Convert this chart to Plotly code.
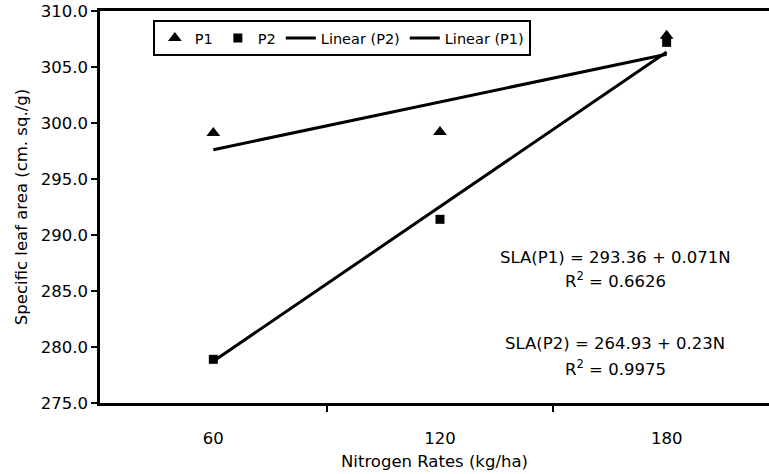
import plotly.graph_objects as go

# Data
n_rates = [60, 120, 180]
sla_p1 = [299.1, 299.2, 307.8]
sla_p2 = [278.9, 291.4, 307.2]
# Linear trend coefficients (as printed on the chart)
p1_intercept, p1_slope = 293.36, 0.071
p2_intercept, p2_slope = 264.93, 0.23
eq_p1 = "SLA(P1) = 293.36 + 0.071N"
r2_p1 = "R<sup>2</sup> = 0.6626"
eq_p2 = "SLA(P2) = 264.93 + 0.23N"
r2_p2 = "R<sup>2</sup> = 0.9975"
x_tick_labels = ["60", "120", "180"]

FONT = "DejaVu Sans"

trend_x = [n_rates[0], n_rates[-1]]
trend_p1 = [p1_intercept + p1_slope * x for x in trend_x]
trend_p2 = [p2_intercept + p2_slope * x for x in trend_x]

fig = go.Figure()
fig.add_trace(go.Scatter(x=n_rates, y=sla_p1, mode="markers", name="P1",
                         marker=dict(symbol="triangle-up", size=12, color="black")))
fig.add_trace(go.Scatter(x=n_rates, y=sla_p2, mode="markers", name="P2",
                         marker=dict(symbol="square", size=9, color="black")))
fig.add_trace(go.Scatter(x=trend_x, y=trend_p2, mode="lines", name="Linear (P2)",
                         line=dict(color="black", width=3)))
fig.add_trace(go.Scatter(x=trend_x, y=trend_p1, mode="lines", name="Linear (P1)",
                         line=dict(color="black", width=3)))

ann_font = dict(family=FONT, size=16.5, color="black")
for txt, yp in [(eq_p1, 0.372), (r2_p1, 0.314), (eq_p2, 0.153), (r2_p2, 0.089)]:
    fig.add_annotation(x=0.770, y=yp, xref="paper", yref="paper", text=txt,
                       showarrow=False, font=ann_font, xanchor="center", yanchor="middle")

fig.update_layout(
    width=769, height=474,
    margin=dict(l=100, r=0, t=11, b=71),
    paper_bgcolor="white", plot_bgcolor="white",
    font=dict(family=FONT, size=16, color="black"),
    showlegend=True,
    legend=dict(orientation="h", x=0.079, y=0.977, xanchor="left", yanchor="top",
                bordercolor="black", borderwidth=2, bgcolor="white",
                font=dict(family=FONT, size=14.5, color="black"),
                itemwidth=30, tracegroupgap=0),
    xaxis=dict(range=[30, 207.1], tickvals=n_rates, ticktext=x_tick_labels,
               ticks="", showgrid=False, zeroline=False,
               showline=True, linecolor="black", linewidth=2.5, mirror=True,
               ticklabelstandoff=18, tickfont=dict(family=FONT, size=16.5),
               minor=dict(tickvals=[90, 150], ticks="outside", ticklen=6,
                          tickwidth=2, tickcolor="black", showgrid=False),
               title=dict(text="Nitrogen Rates (kg/ha)", standoff=9,
                          font=dict(family=FONT, size=16.5))),
    yaxis=dict(range=[275, 310], dtick=5, tick0=275, tickformat=".1f",
               ticks="outside", ticklen=6, tickwidth=2, tickcolor="black",
               showgrid=False, zeroline=False, tickfont=dict(family=FONT, size=16.5),
               showline=True, linecolor="black", linewidth=2.5,
               title=dict(text="Specific leaf area (cm. sq./g)", standoff=9,
                          font=dict(family=FONT, size=16.5))),
)

fig.write_html("out.html")
